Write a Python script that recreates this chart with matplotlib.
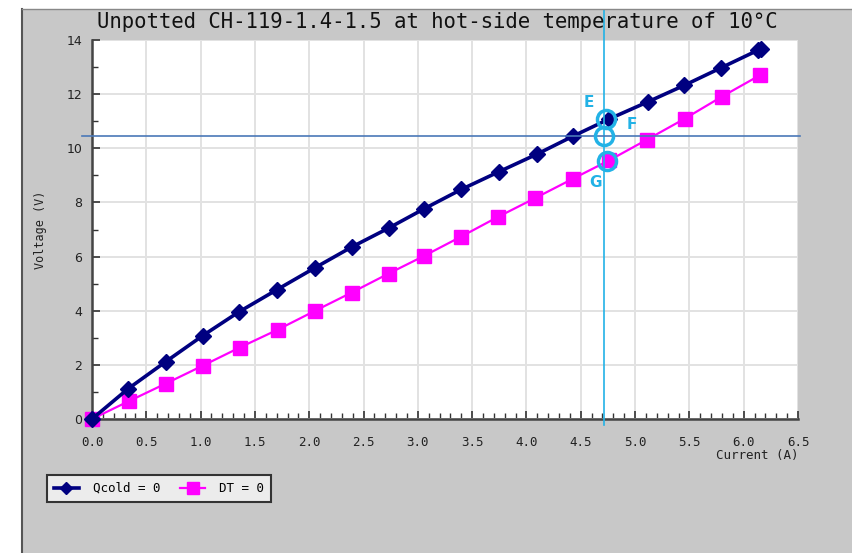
import matplotlib
matplotlib.use('Agg')
from matplotlib import pyplot as plt
from matplotlib.patches import Rectangle
from matplotlib.ticker import MultipleLocator
import numpy as np

# Qcold = 0 curve (navy diamonds)
qcold_i = [0.0, 0.33, 0.68, 1.02, 1.35, 1.70, 2.05, 2.39, 2.73, 3.06, 3.40,
           3.75, 4.10, 4.43, 4.76, 5.12, 5.45, 5.79, 6.13, 6.16]
qcold_v = [0.0, 1.11, 2.12, 3.08, 3.95, 4.77, 5.58, 6.35, 7.05, 7.77, 8.48,
           9.14, 9.79, 10.45, 11.08, 11.72, 12.32, 12.97, 13.62, 13.68]

# DT = 0 curve (magenta squares)
dt_i = [0.0, 0.34, 0.68, 1.02, 1.36, 1.71, 2.05, 2.39, 2.73, 3.06, 3.40,
        3.74, 4.08, 4.43, 4.76, 5.11, 5.46, 5.80, 6.15]
dt_v = [0.0, 0.66, 1.31, 1.97, 2.64, 3.30, 3.99, 4.67, 5.37, 6.03, 6.74,
        7.47, 8.16, 8.88, 9.55, 10.32, 11.10, 11.91, 12.70]

# x tick labels
x_ticks = [0.0, 0.5, 1.0, 1.5, 2.0, 2.5, 3.0, 3.5, 4.0, 4.5, 5.0, 5.5, 6.0, 6.5]

# operating point markers
op_current = 4.71
op_voltage = 10.47
mark_names = ['E', 'F', 'G']
mark_i = [4.73, 4.71, 4.74]
mark_v = [11.08, 10.47, 9.52]

cyan = '#22b2e6'

fig = plt.figure(figsize=(8.52, 5.53), dpi=100, facecolor='#c8c8c8')

# white strip top / left and the panel border
fig.patches.append(Rectangle((0, 1 - 9/553.), 1, 9/553., transform=fig.transFigure,
                             facecolor='white', edgecolor='none', zorder=0))
fig.patches.append(Rectangle((0, 0), 22/852., 1, transform=fig.transFigure,
                             facecolor='white', edgecolor='none', zorder=0))
fig.lines.append(plt.Line2D([22/852., 22/852.], [0, 1 - 9/553.], transform=fig.transFigure,
                            color='#555555', lw=1.5))
fig.lines.append(plt.Line2D([22/852., 1], [1 - 9/553., 1 - 9/553.], transform=fig.transFigure,
                            color='#888888', lw=1.0))

ax = fig.add_axes([92/852., 1 - 419/553., 706/852., 379/553.])
ax.set_facecolor('white')

ax.plot(qcold_i, qcold_v, '-', color='#000080', lw=2.6, marker='D', markersize=8,
        label='Qcold = 0', zorder=4, clip_on=False)
ax.plot(dt_i, dt_v, '-', color='#ff00ff', lw=1.6, marker='s', markersize=10,
        label='DT = 0', zorder=3, clip_on=False)

ax.set_xlim(0, 6.5)
ax.set_ylim(0, 14)
ax.xaxis.set_minor_locator(MultipleLocator(0.1))
ax.yaxis.set_major_locator(MultipleLocator(2))
ax.yaxis.set_minor_locator(MultipleLocator(1))
ax.set_xticks(x_ticks)
ax.set_xticklabels(['%.1f' % v for v in x_ticks],
                   family='DejaVu Sans Mono', fontsize=9, color='#222222')
ax.tick_params(axis='y', labelsize=9, labelcolor='#222222')
ax.tick_params(which='major', direction='in', length=6, width=1.2, color='#333333', pad=12)
ax.tick_params(which='minor', direction='in', length=4, width=1.0, color='#333333')
ax.tick_params(axis='y', pad=7)
ax.grid(True, which='major', color='#e2e2e2', lw=1.4)
ax.set_axisbelow(True)

for s in ['top', 'right']:
    ax.spines[s].set_visible(False)
for s in ['left', 'bottom']:
    ax.spines[s].set_color('#444444')
    ax.spines[s].set_linewidth(1.8)

ax.set_xlabel('Current (A)', family='DejaVu Sans Mono', fontsize=9, color='#222222',
              loc='right', labelpad=0)
ax.set_ylabel('Voltage (V)', family='DejaVu Sans Mono', fontsize=8.5, color='#222222',
              labelpad=14)

fig.text(437/852., 1 - 22/553., 'Unpotted CH-119-1.4-1.5 at hot-side temperature of 10\u00b0C',
         family='DejaVu Sans Mono', fontsize=14.9, ha='center', va='center', color='#111111')

# annotation lines and rings
ax.axvline(op_current, ymin=-0.016, ymax=1.106, color=cyan, lw=1.2, clip_on=False, zorder=5)
ax.axhline(op_voltage, xmin=-0.014, xmax=1.003, color='#4a78b8', lw=1.2, clip_on=False, zorder=5)
ax.plot(mark_i, mark_v, 'o', markersize=13, markerfacecolor='none',
        markeredgecolor=cyan, markeredgewidth=2.5, zorder=6, linestyle='none')
offsets = [(-12, 12), (20, 8), (-8, -15)]
for n, xi, yi, off in zip(mark_names, mark_i, mark_v, offsets):
    ax.annotate(n, (xi, yi), xytext=off, textcoords='offset points', color=cyan,
                fontsize=11, fontweight='bold', ha='center', va='center', zorder=7)

leg = fig.legend(loc='upper left', bbox_to_anchor=(47/852., 1 - 475/553.), ncol=2,
                 prop={'family': 'DejaVu Sans Mono', 'size': 9}, frameon=True,
                 fancybox=False, edgecolor='#333333', facecolor='#ececec', framealpha=1,
                 handlelength=2.0, columnspacing=1.6, borderpad=0.55, borderaxespad=0,
                 handletextpad=1.1, markerscale=0.8)
leg.get_frame().set_linewidth(1.5)

fig.savefig('out.png', dpi=100, facecolor=fig.get_facecolor())
